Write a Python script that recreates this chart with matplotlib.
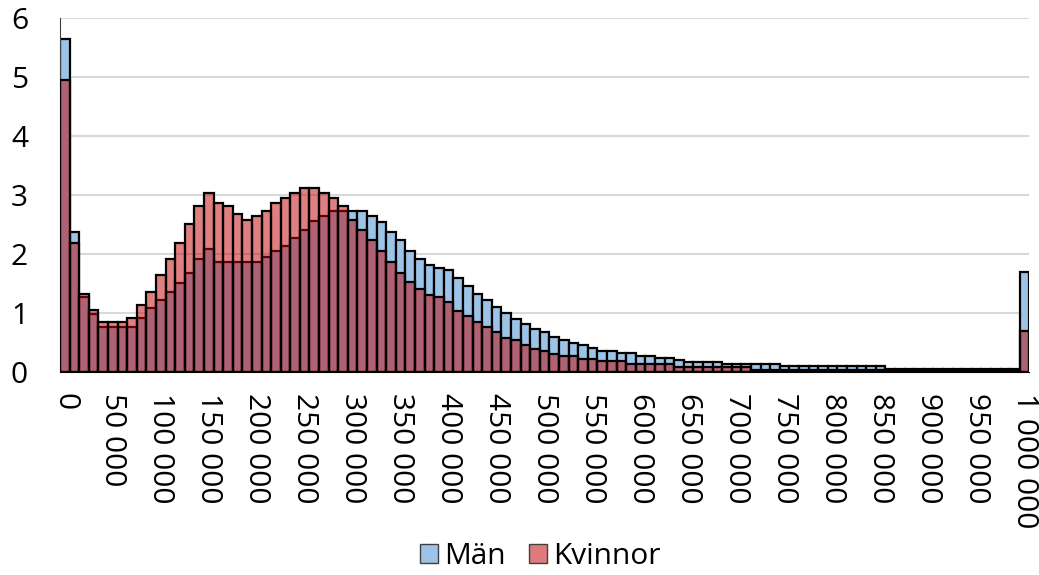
import numpy as np
import matplotlib
matplotlib.use("Agg")
import matplotlib.pyplot as plt
from matplotlib.patches import Patch

plt.rcParams['font.family'] = ['Open Sans', 'DejaVu Sans']

# inkomstklasser, 10 000 kr breda
bins = list(range(0, 1000001, 10000))
tick_labels = ['{:,}'.format(b).replace(',', ' ') for b in bins[::5]]

man = [5.64, 2.37, 1.27, 0.99, 0.77, 0.77, 0.77, 0.77, 0.91, 1.08,
       1.22, 1.36, 1.50, 1.68, 1.91, 2.08, 1.86, 1.86, 1.86, 1.86,
       1.86, 1.95, 2.05, 2.14, 2.27, 2.41, 2.55, 2.64, 2.73, 2.73,
       2.73, 2.73, 2.64, 2.54, 2.37, 2.23, 2.05, 1.91, 1.82, 1.77,
       1.73, 1.59, 1.46, 1.32, 1.22, 1.10, 1.00, 0.90, 0.82, 0.73,
       0.68, 0.59, 0.54, 0.50, 0.45, 0.41, 0.36, 0.36, 0.32, 0.32,
       0.27, 0.27, 0.23, 0.23, 0.21, 0.17, 0.17, 0.17, 0.17, 0.14,
       0.14, 0.14, 0.14, 0.14, 0.14,
       0.10, 0.10, 0.10, 0.10, 0.10, 0.10, 0.10, 0.10, 0.10, 0.10, 0.10,
       0.05, 0.05, 0.05, 0.05, 0.05, 0.05, 0.05, 0.05, 0.05, 0.05, 0.05,
       0.05, 0.05, 0.05,
       1.69]

kvinnor = [4.94, 2.18, 1.32, 1.05, 0.85, 0.85, 0.85, 0.91, 1.14, 1.36,
           1.64, 1.91, 2.19, 2.50, 2.82, 3.04, 2.87, 2.81, 2.68, 2.58,
           2.64, 2.73, 2.87, 2.95, 3.04, 3.12, 3.12, 3.04, 2.95, 2.81,
           2.58, 2.41, 2.23, 2.05, 1.86, 1.68, 1.53, 1.40, 1.31, 1.27,
           1.18, 1.03, 0.95, 0.85, 0.77, 0.68, 0.58, 0.54, 0.45, 0.39,
           0.35, 0.31, 0.27, 0.27, 0.22, 0.22, 0.18, 0.18, 0.18, 0.14,
           0.13, 0.13, 0.14, 0.14, 0.09, 0.09, 0.09, 0.09, 0.09, 0.09,
           0.09, 0.09, 0.04, 0.04, 0.04,
           0.04, 0.04, 0.04, 0.04, 0.04, 0.04, 0.04, 0.04, 0.04, 0.04, 0.04,
           0.02, 0.02, 0.02, 0.02, 0.02, 0.02, 0.02, 0.02, 0.02, 0.02, 0.02,
           0.02, 0.02, 0.02,
           0.69]

blue = '#9DC3E6'
red = (0.76, 0.02, 0.02, 0.51)

fig = plt.figure(figsize=(10.39, 5.75), dpi=100)
ax = fig.add_axes([0.0577, 0.353, 0.933, 0.616])

x = np.arange(len(bins))
ax.bar(x, man, width=1.0, color=blue, edgecolor='black', linewidth=1.6, zorder=2)
ax.bar(x, kvinnor, width=1.0, color=red, edgecolor='black', linewidth=1.6, zorder=3)

ax.set_xlim(-0.5, len(bins) - 0.5)
ax.set_ylim(0, 6)
ax.set_yticks(range(0, 7))
ax.set_xticks(x[::5])
ax.set_xticklabels(tick_labels, rotation=-90, ha='center', va='top')
ax.tick_params(axis='both', length=0, labelsize=21.5)
ax.tick_params(axis='y', pad=23)
ax.tick_params(axis='x', pad=15)

ax.grid(axis='y', color='#D9D9D9', linewidth=1.5, zorder=0)
ax.set_axisbelow(True)
for s in ['top', 'right']:
    ax.spines[s].set_visible(False)
ax.spines['left'].set_color('#404040')
ax.spines['bottom'].set_color('black')

handles = [Patch(facecolor=blue, edgecolor='#404040', label='Män'),
           Patch(facecolor='#E07B7B', edgecolor='#404040', label='Kvinnor')]
fig.legend(handles=handles, loc='lower center', bbox_to_anchor=(0.52, -0.04), ncol=2,
           frameon=False, fontsize=21.5, handlelength=0.6, handleheight=0.6,
           handletextpad=0.2, columnspacing=0.8)

fig.savefig('out.png', dpi=100)
